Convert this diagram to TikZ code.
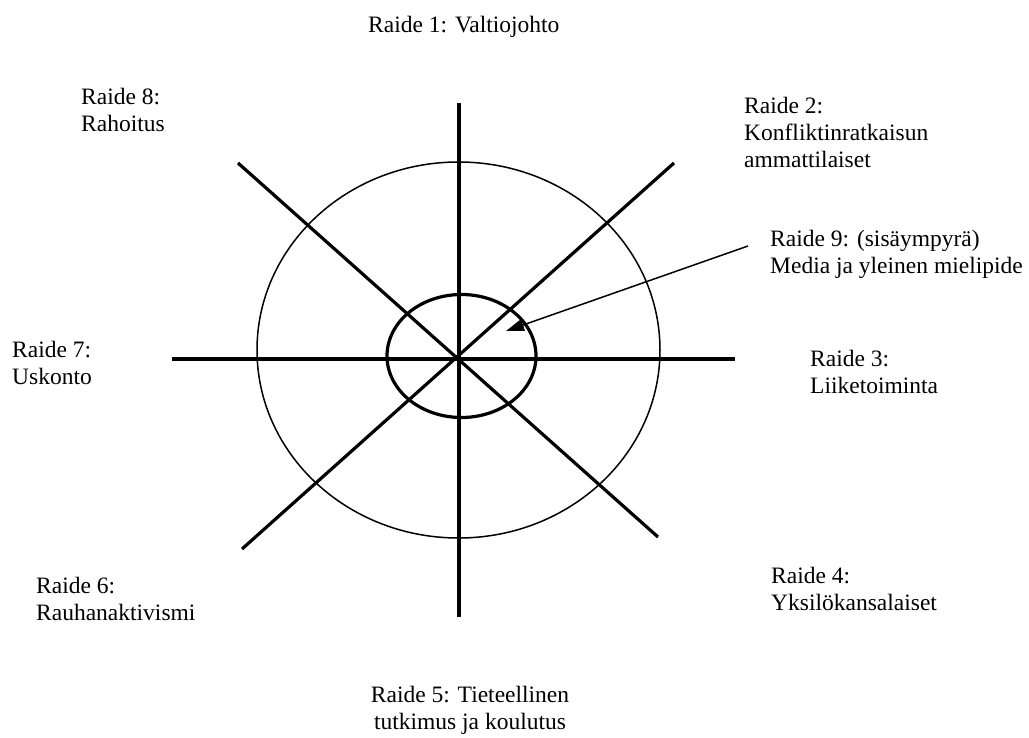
\documentclass[tikz,border=0pt]{standalone}
\usepackage{fontspec}
\setmainfont{Liberation Serif}
\usetikzlibrary{arrows.meta}
\tikzset{
  spoke/.style={line width=3.2pt, line cap=butt},
  lbl/.style={inner sep=0pt, anchor=base west, align=left, font=\fontsize{23.5}{27}\selectfont},
  clbl/.style={inner sep=0pt, anchor=base, align=center, font=\fontsize{23.5}{27}\selectfont},
}
\begin{document}
\begin{tikzpicture}[x=1pt,y=-1pt]
\useasboundingbox (0,0) rectangle (1029,738);
% coordinates
\coordinate (N) at (459,103);
\coordinate (S) at (459,617);
\coordinate (W) at (172,359);
\coordinate (E) at (735,359);
\coordinate (NW) at (238,163);
\coordinate (SE) at (658,537);
\coordinate (NE) at (674,163);
\coordinate (SW) at (242,549);
% circles
\draw[line width=1.5pt] (458.5,350) ellipse [x radius=201.5, y radius=188];
\draw[line width=3.2pt] (461.5,356) ellipse [x radius=74.5, y radius=61.5];
% spokes
\draw[spoke] (N) -- (S);
\draw[spoke] (W) -- (E);
\draw[spoke] (NW) -- (SE);
\draw[spoke] (NE) -- (SW);
% labels (anchor at baseline of last line)
\node[lbl] (r1) at (368,33) {Raide 1: Valtiojohto};
\node[lbl] (r8) at (81,132) {Raide 8:\\Rahoitus};
\node[lbl] (r2) at (744,168) {Raide 2:\\Konfliktinratkaisun\\ammattilaiset};
\node[lbl] (r9) at (770,274) {Raide 9: (sisäympyrä)\\Media ja yleinen mielipide};
\node[lbl] (r7) at (12,384) {Raide 7:\\Uskonto};
\node[lbl] (r3) at (810,393) {Raide 3:\\Liiketoiminta};
\node[lbl] (r6) at (36,620) {Raide 6:\\Rauhanaktivismi};
\node[lbl] (r4) at (771,610) {Raide 4:\\Yksilökansalaiset};
\node[clbl] (r5) at (470,729) {Raide 5: Tieteellinen\\tutkimus ja koulutus};
% arrow
\coordinate (a0) at (748,246);
\coordinate (a1) at (506,331);
\draw[line width=1.5pt, -{Triangle[length=18pt,width=12pt]}] (a0) -- (a1);
\end{tikzpicture}
\end{document}
